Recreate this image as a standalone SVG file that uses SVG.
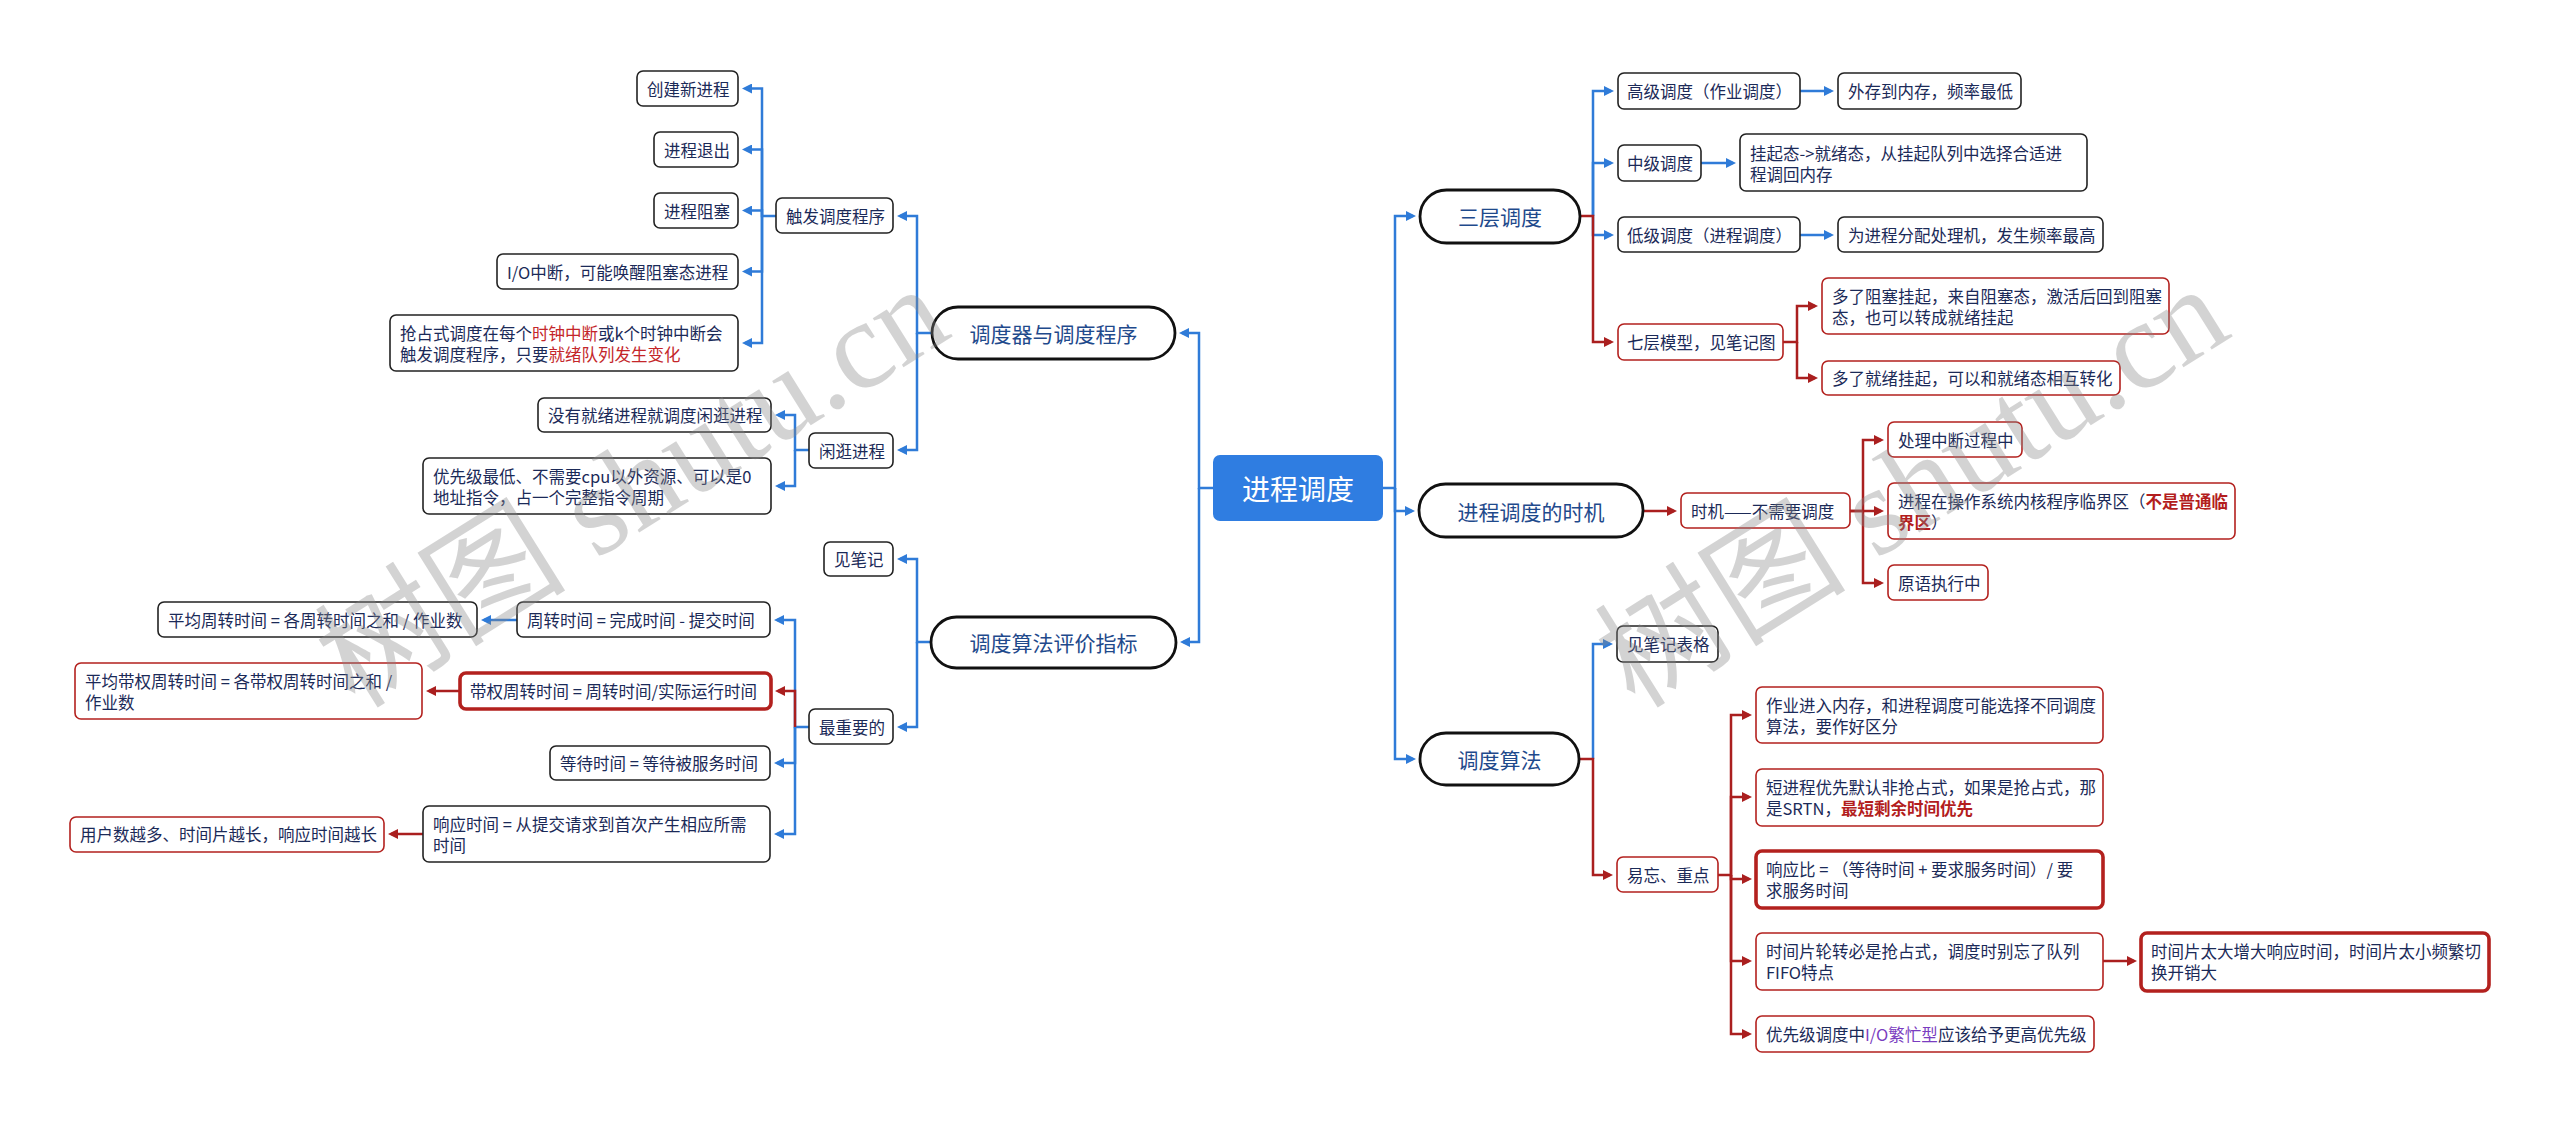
<svg xmlns="http://www.w3.org/2000/svg" width="2560" height="1122" viewBox="0 0 2560 1122">
<style>
.box{fill:#fff;stroke:#222;stroke-width:1.6}
.boxr{fill:#fff;stroke:#b3211e;stroke-width:1.6}
.boxR{fill:#fff;stroke:#b3211e;stroke-width:3.6}
.stad{fill:#fff;stroke:#111;stroke-width:2.8}
.t{font-family:"Noto Sans CJK SC","Noto Sans",sans-serif;font-size:16.5px;fill:#1b2a58;dominant-baseline:central}
.ts{font-size:21px;fill:#1f4a8c;text-anchor:middle}
.hl{fill:#c4262a}
.hb{fill:#b31d1d;font-weight:bold}
.pu{fill:#7a3cc0}
.cb{fill:none;stroke:#2f7bd8;stroke-width:2.5}
.cr{fill:none;stroke:#aa1f1f;stroke-width:2.5}
.wm{font-family:"Liberation Serif","Noto Sans CJK SC",serif;font-size:126px;fill:#888;opacity:0.36}
</style>
<defs>
<marker id="ab" viewBox="0 0 10 10" refX="7" refY="5" markerWidth="10" markerHeight="10" markerUnits="userSpaceOnUse" orient="auto"><path d="M0,0 L10,5 L0,10 z" fill="#2f7bd8"/></marker>
<marker id="ar" viewBox="0 0 10 10" refX="7" refY="5" markerWidth="10" markerHeight="10" markerUnits="userSpaceOnUse" orient="auto"><path d="M0,0 L10,5 L0,10 z" fill="#aa1f1f"/></marker>
</defs>
<rect width="2560" height="1122" fill="#fff"/>

<g id="connectors">
<g class="cb" marker-end="url(#ab)">
<path d="M1213,488 H1199 V333 H1182"/>
<path d="M1199,488 V642 H1183"/>
<path d="M932,333 H917 V216 H900"/>
<path d="M917,333 V450 H900"/>
<path d="M776,216 H762 V88.5 H745"/>
<path d="M762,216 V149.5 H745"/>
<path d="M762,216 V210.5 H745"/>
<path d="M762,216 V271.5 H745"/>
<path d="M762,216 V343 H745"/>
<path d="M809,450 H795 V415 H778"/>
<path d="M795,450 V486 H778"/>
<path d="M931,642 H917 V559 H900"/>
<path d="M917,642 V727 H900"/>
<path d="M809,727 H795 V620 H777"/>
<path d="M795,727 V763 H777"/>
<path d="M795,727 V834 H777"/>
<path d="M517,620 H484"/>
<path d="M1383,488 H1395 V216 H1413"/>
<path d="M1395,488 V511 H1412"/>
<path d="M1395,488 V759 H1413"/>
<path d="M1593,216 V91 H1611"/>
<path d="M1593,216 V163 H1611"/>
<path d="M1593,216 V235 H1611"/>
<path d="M1800,91 H1831"/>
<path d="M1701,163 H1733"/>
<path d="M1800,235 H1831"/>
<path d="M1593,759 V644 H1610"/>
</g>
<g class="cr" marker-end="url(#ar)">
<path d="M795,727 V691 H778"/>
<path d="M460,691 H429"/>
<path d="M423,834 H391"/>
<path d="M1580,216 H1593 V342 H1611"/>
<path d="M1783,342 H1797 V306 H1815"/>
<path d="M1797,342 V378 H1815"/>
<path d="M1643,511 H1674"/>
<path d="M1850,511 H1863 V440 H1881"/>
<path d="M1850,511 H1881"/>
<path d="M1863,511 V583 H1881"/>
<path d="M1579,759 H1593 V875 H1610"/>
<path d="M1718,875 H1731 V715 H1749"/>
<path d="M1731,875 V797 H1749"/>
<path d="M1731,875 V879 H1749"/>
<path d="M1731,875 V961 H1749"/>
<path d="M1731,875 V1034 H1749"/>
<path d="M2103,961 H2134"/>
</g>
</g>

<g id="root">
<rect x="1213" y="455" width="170" height="66" rx="7" fill="#2f7de1"/>
<text class="t" x="1298" y="488" text-anchor="middle" style="font-size:28px;fill:#fff">进程调度</text>
</g>

<g id="n-tiaoduqi">
<rect class="stad" x="932" y="307" width="243" height="52" rx="26"/>
<text class="t ts" x="1053.5" y="333">调度器与调度程序</text>
</g>
<g id="n-chufa">
<rect class="box" x="776" y="198" width="117" height="35" rx="6"/>
<text class="t" x="786" y="216">触发调度程序</text>
</g>
<g id="n-chuangjian">
<rect class="box" x="637" y="71" width="101" height="35" rx="6"/>
<text class="t" x="647" y="88.5">创建新进程</text>
</g>
<g id="n-tuichu">
<rect class="box" x="654" y="132" width="84" height="35" rx="6"/>
<text class="t" x="664" y="149.5">进程退出</text>
</g>
<g id="n-zuse">
<rect class="box" x="654" y="193" width="84" height="35" rx="6"/>
<text class="t" x="664" y="210.5">进程阻塞</text>
</g>
<g id="n-io">
<rect class="box" x="497" y="254" width="241" height="35" rx="6"/>
<text class="t" x="507" y="271.5">I/O中断，可能唤醒阻塞态进程</text>
</g>
<g id="n-qiangzhan">
<rect class="box" x="390" y="315" width="348" height="56" rx="6"/>
<text class="t" x="400" y="333">抢占式调度在每个<tspan class="hl">时钟中断</tspan>或k个时钟中断会</text>
<text class="t" x="400" y="354">触发调度程序，只要<tspan class="hl">就绪队列发生变化</tspan></text>
</g>
<g id="n-xianguang">
<rect class="box" x="809" y="433" width="84" height="35" rx="6"/>
<text class="t" x="819" y="450.5">闲逛进程</text>
</g>
<g id="n-meiyou">
<rect class="box" x="538" y="398" width="233" height="34" rx="6"/>
<text class="t" x="548" y="415">没有就绪进程就调度闲逛进程</text>
</g>
<g id="n-youxianji">
<rect class="box" x="423" y="458" width="348" height="56" rx="6"/>
<text class="t" x="433" y="476">优先级最低、不需要cpu以外资源、可以是0</text>
<text class="t" x="433" y="497">地址指令，占一个完整指令周期</text>
</g>

<g id="n-pingjia">
<rect class="stad" x="931" y="617" width="245" height="51" rx="25.5"/>
<text class="t ts" x="1053.5" y="642">调度算法评价指标</text>
</g>
<g id="n-jianbiji">
<rect class="box" x="824" y="542" width="69" height="34" rx="6"/>
<text class="t" x="834" y="559">见笔记</text>
</g>
<g id="n-zuizhongyao">
<rect class="box" x="809" y="709" width="84" height="35" rx="6"/>
<text class="t" x="819" y="727">最重要的</text>
</g>
<g id="n-zhouzhuan">
<rect class="box" x="517" y="602" width="253" height="35" rx="6"/>
<text class="t" x="527" y="620">周转时间 = 完成时间 - 提交时间</text>
</g>
<g id="n-pingjunzhouzhuan">
<rect class="box" x="158" y="602" width="319" height="35" rx="6"/>
<text class="t" x="168" y="620">平均周转时间 = 各周转时间之和 / 作业数</text>
</g>
<g id="n-daiquan">
<rect class="boxR" x="460" y="673" width="311" height="36" rx="6"/>
<text class="t" x="470" y="691">带权周转时间 = 周转时间/实际运行时间</text>
</g>
<g id="n-pingjundaiquan">
<rect class="boxr" x="75" y="663" width="347" height="56" rx="6"/>
<text class="t" x="85" y="681">平均带权周转时间 = 各带权周转时间之和 /</text>
<text class="t" x="85" y="702">作业数</text>
</g>
<g id="n-dengdai">
<rect class="box" x="550" y="746" width="220" height="34" rx="6"/>
<text class="t" x="560" y="763">等待时间 = 等待被服务时间</text>
</g>
<g id="n-xiangying">
<rect class="box" x="423" y="806" width="347" height="56" rx="6"/>
<text class="t" x="433" y="824">响应时间 = 从提交请求到首次产生相应所需</text>
<text class="t" x="433" y="845">时间</text>
</g>
<g id="n-yonghu">
<rect class="boxr" x="70" y="817" width="314" height="35" rx="6"/>
<text class="t" x="80" y="834">用户数越多、时间片越长，响应时间越长</text>
</g>

<g id="n-sanceng">
<rect class="stad" x="1420" y="190" width="160" height="53" rx="26.5"/>
<text class="t ts" x="1500" y="216">三层调度</text>
</g>
<g id="n-gaoji">
<rect class="box" x="1618" y="73" width="182" height="36" rx="6"/>
<text class="t" x="1627" y="91">高级调度（作业调度）</text>
</g>
<g id="n-waicun">
<rect class="box" x="1838" y="73" width="183" height="36" rx="6"/>
<text class="t" x="1848" y="91">外存到内存，频率最低</text>
</g>
<g id="n-zhongji">
<rect class="box" x="1618" y="145" width="83" height="36" rx="6"/>
<text class="t" x="1627" y="163">中级调度</text>
</g>
<g id="n-guaqi">
<rect class="box" x="1740" y="134" width="347" height="57" rx="6"/>
<text class="t" x="1750" y="153">挂起态-&gt;就绪态，从挂起队列中选择合适进</text>
<text class="t" x="1750" y="174">程调回内存</text>
</g>
<g id="n-diji">
<rect class="box" x="1618" y="217" width="182" height="35" rx="6"/>
<text class="t" x="1627" y="235">低级调度（进程调度）</text>
</g>
<g id="n-fenpei">
<rect class="box" x="1838" y="217" width="265" height="35" rx="6"/>
<text class="t" x="1848" y="235">为进程分配处理机，发生频率最高</text>
</g>
<g id="n-qiceng">
<rect class="boxr" x="1618" y="324" width="165" height="36" rx="6"/>
<text class="t" x="1627" y="342">七层模型，见笔记图</text>
</g>
<g id="n-zuseguaqi">
<rect class="boxr" x="1822" y="278" width="347" height="56" rx="6"/>
<text class="t" x="1832" y="296">多了阻塞挂起，来自阻塞态，激活后回到阻塞</text>
<text class="t" x="1832" y="317">态，也可以转成就绪挂起</text>
</g>
<g id="n-jiuxuguaqi">
<rect class="boxr" x="1822" y="361" width="298" height="34" rx="6"/>
<text class="t" x="1832" y="378">多了就绪挂起，可以和就绪态相互转化</text>
</g>

<g id="n-shiji">
<rect class="stad" x="1419" y="484" width="224" height="53" rx="26.5"/>
<text class="t ts" x="1531" y="511">进程调度的时机</text>
</g>
<g id="n-buxuyao">
<rect class="boxr" x="1681" y="493" width="169" height="35" rx="6"/>
<text class="t" x="1691" y="511">时机——不需要调度</text>
</g>
<g id="n-chuli">
<rect class="boxr" x="1888" y="422" width="134" height="35" rx="6"/>
<text class="t" x="1898" y="440">处理中断过程中</text>
</g>
<g id="n-linjie">
<rect class="boxr" x="1888" y="483" width="347" height="56" rx="6"/>
<text class="t" x="1898" y="501">进程在操作系统内核程序临界区（<tspan class="hb">不是普通临</tspan></text>
<text class="t" x="1898" y="522"><tspan class="hb">界区</tspan>）</text>
</g>
<g id="n-yuanyu">
<rect class="boxr" x="1888" y="565" width="100" height="35" rx="6"/>
<text class="t" x="1898" y="583">原语执行中</text>
</g>

<g id="n-suanfa">
<rect class="stad" x="1420" y="733" width="159" height="52" rx="26"/>
<text class="t ts" x="1499.5" y="759">调度算法</text>
</g>
<g id="n-biaoge">
<rect class="box" x="1617" y="626" width="101" height="36" rx="6"/>
<text class="t" x="1627" y="644">见笔记表格</text>
</g>
<g id="n-yiwang">
<rect class="boxr" x="1617" y="857" width="101" height="35" rx="6"/>
<text class="t" x="1627" y="875">易忘、重点</text>
</g>
<g id="n-zuoye">
<rect class="boxr" x="1756" y="687" width="347" height="56" rx="6"/>
<text class="t" x="1766" y="705">作业进入内存，和进程调度可能选择不同调度</text>
<text class="t" x="1766" y="726">算法，要作好区分</text>
</g>
<g id="n-duanjincheng">
<rect class="boxr" x="1756" y="769" width="347" height="57" rx="6"/>
<text class="t" x="1766" y="787">短进程优先默认非抢占式，如果是抢占式，那</text>
<text class="t" x="1766" y="808">是SRTN，<tspan class="hb">最短剩余时间优先</tspan></text>
</g>
<g id="n-xiangyingbi">
<rect class="boxR" x="1756" y="851" width="347" height="57" rx="6"/>
<text class="t" x="1766" y="869">响应比 = （等待时间 + 要求服务时间）/ 要</text>
<text class="t" x="1766" y="890">求服务时间</text>
</g>
<g id="n-shijianpian">
<rect class="boxr" x="1756" y="933" width="347" height="57" rx="6"/>
<text class="t" x="1766" y="951">时间片轮转必是抢占式，调度时别忘了队列</text>
<text class="t" x="1766" y="972">FIFO特点</text>
</g>
<g id="n-taida">
<rect class="boxR" x="2141" y="933" width="348" height="58" rx="6"/>
<text class="t" x="2151" y="951">时间片太大增大响应时间，时间片太小频繁切</text>
<text class="t" x="2151" y="972">换开销大</text>
</g>
<g id="n-youxianjidiaodu">
<rect class="boxr" x="1756" y="1016" width="338" height="36" rx="6"/>
<text class="t" x="1766" y="1034">优先级调度中<tspan class="pu">I/O繁忙型</tspan>应该给予更高优先级</text>
</g>

<g id="watermark">
<text class="wm" transform="translate(355,710) rotate(-32)">树图 shutu.cn</text>
<text class="wm" transform="translate(1635,710) rotate(-32)">树图 shutu.cn</text>
</g>
</svg>
